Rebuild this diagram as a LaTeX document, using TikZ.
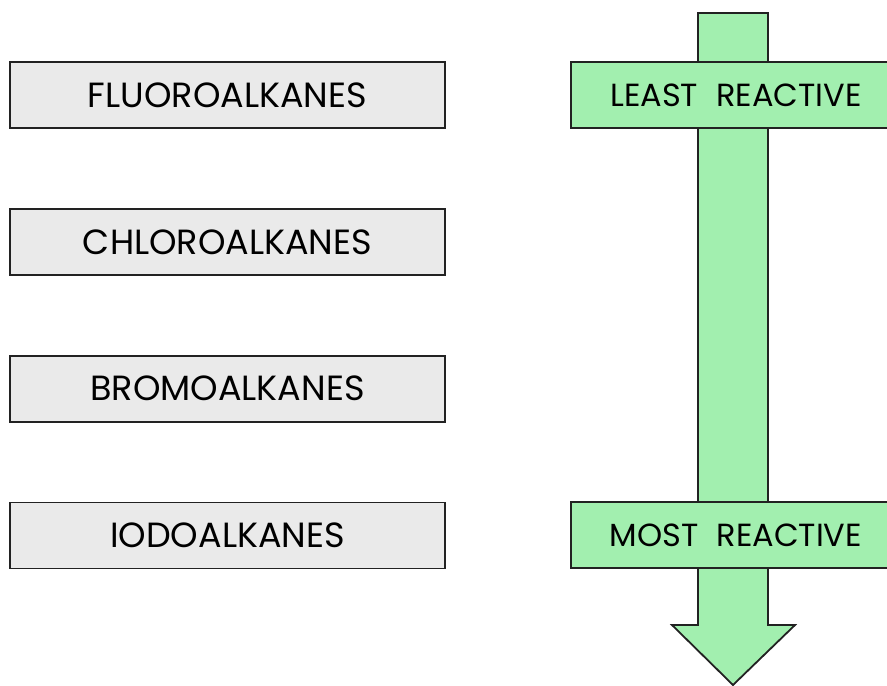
\documentclass[tikz,border=0pt]{standalone}
\usepackage{fontspec}
\setmainfont{Poppins}
\usetikzlibrary{positioning}
\definecolor{halgrey}{HTML}{EAEAEA}
\definecolor{halgreen}{HTML}{A2EFAF}
\definecolor{halink}{HTML}{222222}

\begin{document}
\begin{tikzpicture}[
        x=1pt, y=-1pt,
        font=\fontsize{35}{40}\selectfont,
        node distance=79pt,
        halbox/.style={draw=halink, fill=halgrey, line width=1.8pt,
                    minimum width=435pt, minimum height=66pt, inner sep=0pt},
        tagbox/.style={draw=halink, fill=halgreen, line width=1.8pt,
                    font=\fontsize{32}{36}\selectfont,
                    minimum width=330pt, minimum height=66pt, inner sep=0pt},
      ]
        \useasboundingbox (0,0) rectangle (887,686);
        % halogenoalkanes
        \node[halbox] (fluoro) at (227.5,95) {FLUOROALKANES};
        \node[halbox, below=of fluoro] (chloro) {CHLOROALKANES};
        \node[halbox, below=of chloro] (bromo) {BROMOALKANES};
        \node[halbox, below=of bromo]  (iodo)  {IODOALKANES};
        % reactivity arrow
        \coordinate (top) at (733,13);
        \coordinate (tip) at (733,685);
        \draw[halink, fill=halgreen, line width=1.8pt, line join=miter]
          ([xshift=-35pt]top) -- ([xshift=35pt]top) -- ([xshift=35pt,yshift=60pt]tip)
          -- ([xshift=62pt,yshift=60pt]tip) -- (tip) -- ([xshift=-61pt,yshift=60pt]tip)
          -- ([xshift=-35pt,yshift=60pt]tip) -- cycle;
        \node[tagbox, anchor=west] (least) at (570,95) {LEAST\hspace{18pt}REACTIVE\hspace{2pt}};
        \node[tagbox, anchor=west] (most)  at (570,535) {MOST\hspace{18pt}REACTIVE\hspace{2pt}};
      \end{tikzpicture}
\end{document}
